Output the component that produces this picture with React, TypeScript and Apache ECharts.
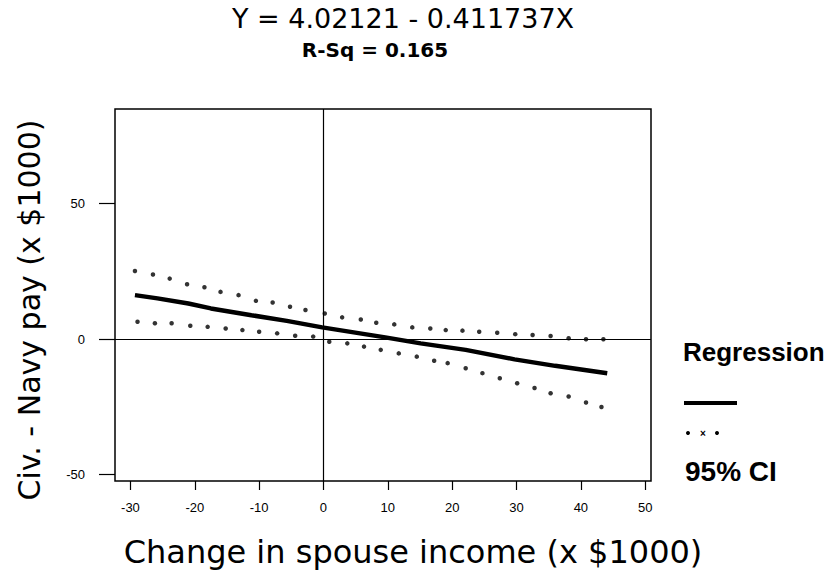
import React, { useEffect, useRef } from "react";
import * as echarts from "echarts";

const titleText = "Y = 4.02121 - 0.411737X";
const subtitleText = "R-Sq = 0.165";
const xAxisName = "Change in spouse income (x $1000)";
const yAxisName = "Civ. - Navy pay (x $1000)";
const xTicks = [-30, -20, -10, 0, 10, 20, 30, 40, 50];
const yTicks = [-50, 0, 50];

const regX = [-29.3, -25.8, -21, -17.5, -11.2, -5.7, -0.2, 9.6, 15.1, 22.1, 29.7, 36, 44.1];
const regY = [16.2, 15, 13.1, 11.3, 8.8, 6.7, 4.3, 0.6, -1.6, -4.0, -7.5, -9.9, -12.6];

const upperX = [-29.3, -26.5, -23.9, -21.2, -18.5, -16, -13.2, -10.5, -7.9, -5.2, -2.8, 0.2, 2.9, 5.8, 8.2, 11.0, 13.8, 16.6, 19.0, 21.6, 24.2, 27.0, 29.8, 32.5, 35.3, 38.1, 40.8, 43.5];
const upperY = [25.1, 23.8, 22.3, 20.2, 19.1, 17.4, 16.2, 14.1, 13.5, 11.9, 10.7, 9.4, 8.0, 7.2, 6.0, 5.4, 4.3, 3.9, 3.3, 3.1, 2.7, 2.3, 1.8, 1.5, 1.1, 0.3, -0.1, -0.1];

const lowerX = [-28.9, -26.2, -23.6, -20.7, -18, -15.2, -12.6, -10, -7.2, -4.4, -1.6, 0.9, 3.7, 6.3, 8.9, 11.7, 14.5, 17.2, 19.3, 22.1, 24.7, 27.4, 30.1, 32.8, 35.3, 38.1, 40.8, 43.2];
const lowerY = [6.4, 5.8, 5.8, 4.9, 4.5, 3.9, 3.3, 2.7, 2.1, 1.2, 0.9, -1.0, -1.6, -2.8, -4.0, -5.3, -6.5, -8.0, -8.9, -10.8, -12.6, -14.5, -16.3, -18.1, -20.0, -21.2, -23.4, -25.1];

const legendItems = ["Regression", "95% CI"];

const xMin = -32.4;
const xMax = 50.9;
const yMin = -52.4;
const yMax = 84.9;

const bigFont = "DejaVu Sans";
const tickFont = "Liberation Sans";

export default function App() {
  const ref = useRef<HTMLDivElement>(null);
  useEffect(() => {
    if (!ref.current) return;
    const chart = echarts.init(ref.current, undefined, { renderer: "svg" });
    const zip = (xs: number[], ys: number[]) => xs.map((x, i) => [x, ys[i]]);
    chart.setOption({
      animation: false,
      backgroundColor: "#fff",
      title: [
        {
          text: titleText,
          left: 398,
          top: 0,
          textAlign: "center",
          textStyle: { fontFamily: bigFont, fontSize: 27, fontWeight: "normal", color: "#000" },
        },
        {
          text: subtitleText,
          left: 370,
          top: 35,
          textAlign: "center",
          textStyle: { fontFamily: bigFont, fontSize: 20, fontWeight: "bold", color: "#000" },
        },
      ],
      grid: {
        left: 115,
        right: 182,
        top: 109,
        bottom: 99,
        show: true,
        borderColor: "#000",
        borderWidth: 1.5,
        backgroundColor: "transparent",
      },
      xAxis: {
        type: "value",
        min: xMin,
        max: xMax,
        name: xAxisName,
        nameLocation: "middle",
        nameGap: 55,
        nameTextStyle: { fontFamily: bigFont, fontSize: 32, color: "#000", padding: [0, 0, 0, 60] },
        axisLine: { show: false, onZero: false },
        splitLine: { show: false },
        axisTick: {
          show: true,
          inside: false,
          length: 9,
          customValues: xTicks,
          lineStyle: { color: "#000", width: 1.2 },
        },
        axisLabel: {
          customValues: xTicks,
          margin: 20,
          fontFamily: tickFont,
          fontSize: 13,
          color: "#000",
        },
      },
      yAxis: {
        type: "value",
        min: yMin,
        max: yMax,
        name: yAxisName,
        nameLocation: "middle",
        nameGap: 71,
        nameRotate: 90,
        nameTextStyle: { fontFamily: bigFont, fontSize: 30, color: "#000", padding: [0, 30, 0, 0] },
        axisLine: { show: false, onZero: false },
        splitLine: { show: false },
        axisTick: {
          show: true,
          inside: false,
          length: 16,
          customValues: yTicks,
          lineStyle: { color: "#000", width: 1.2 },
        },
        axisLabel: {
          customValues: yTicks,
          margin: 30,
          fontFamily: tickFont,
          fontSize: 13,
          color: "#000",
        },
      },
      series: [
        {
          name: legendItems[0],
          type: "line",
          data: zip(regX, regY),
          showSymbol: false,
          lineStyle: { color: "#000", width: 4.5 },
          markLine: {
            silent: true,
            symbol: "none",
            label: { show: false },
            lineStyle: { color: "#000", width: 1.2, type: "solid" },
            data: [{ xAxis: 0 }, { yAxis: 0 }],
          },
          z: 3,
        },
        {
          name: legendItems[1],
          type: "scatter",
          data: zip(upperX, upperY),
          symbol: "circle",
          symbolSize: 4.5,
          itemStyle: { color: "#000" },
        },
        {
          name: legendItems[1] + " lower",
          type: "scatter",
          data: zip(lowerX, lowerY),
          symbol: "circle",
          symbolSize: 4.5,
          itemStyle: { color: "#000" },
        },
      ],
      graphic: [
        {
          type: "text",
          x: 683,
          y: 352,
          style: { text: legendItems[0], fontFamily: tickFont, fontSize: 26, fontWeight: "bold", fill: "#000", verticalAlign: "middle" },
        },
        {
          type: "line",
          shape: { x1: 684, y1: 403, x2: 737, y2: 403 },
          style: { stroke: "#000", lineWidth: 4 },
        },
        { type: "circle", shape: { cx: 688, cy: 433, r: 2 }, style: { fill: "#000" } },
        {
          type: "text",
          x: 703,
          y: 433,
          style: { text: "×", fontFamily: tickFont, fontSize: 10, fontWeight: "bold", fill: "#000", align: "center", verticalAlign: "middle" },
        },
        { type: "circle", shape: { cx: 717, cy: 433, r: 2 }, style: { fill: "#000" } },
        {
          type: "text",
          x: 685,
          y: 471,
          style: { text: legendItems[1], fontFamily: tickFont, fontSize: 28, fontWeight: "bold", fill: "#000", verticalAlign: "middle" },
        },
      ],
    });
    return () => chart.dispose();
  }, []);
  return <div ref={ref} style={{ position: "absolute", left: 0, top: 0, width: 833, height: 580 }} />;
}
